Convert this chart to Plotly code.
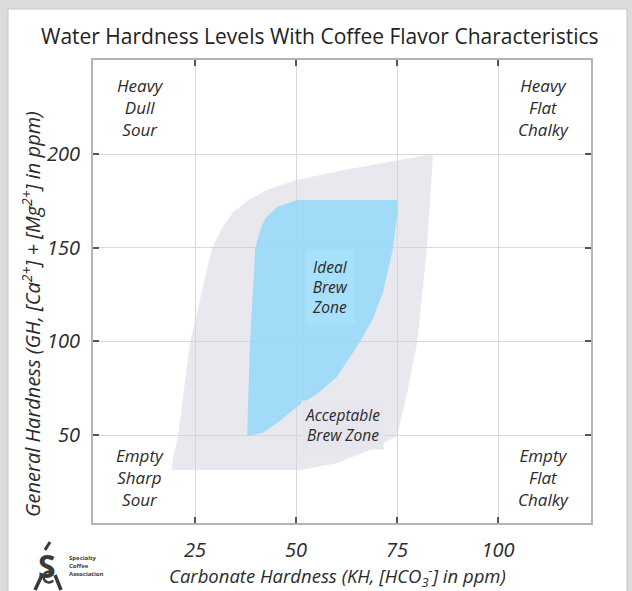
import math
import plotly.graph_objects as go

# ---------------- data ----------------
x_ticks = [25, 50, 75, 100]
y_ticks = [50, 100, 150, 200]

# Acceptable brew zone outline (KH, GH)
accept_kh = [19.3, 35.0, 51.0, 60.1, 68.3, 75.0, 77.5, 80.0, 82.4, 83.9,
             75.0, 62.0, 49.8, 42.5, 38.0, 34.5, 31.8, 29.2, 23.8, 20.8, 19.5, 19.3]
accept_gh = [31.3, 31.3, 31.3, 35.0, 42.0, 49.5, 72.5, 99.7, 149.8, 200.0,
             196.6, 191.5, 186.0, 180.5, 175.0, 169.0, 161.0, 149.8, 99.7, 49.5, 36.7, 31.3]

# Ideal brew zone outline (KH, GH)
ideal_kh = [37.9, 41.6, 46.0, 50.2, 55.5, 60.1, 65.8, 69.0, 71.5, 74.0, 75.0, 75.0,
            62.0, 50.2, 45.3, 42.5, 41.1, 39.9, 38.6, 37.9]
ideal_gh = [49.5, 51.0, 57.5, 65.0, 72.5, 81.0, 99.7, 112.0, 125.9, 149.8, 167.4, 175.4,
            175.4, 175.4, 171.7, 166.0, 159.5, 149.8, 99.7, 49.5]

corner_labels = ["Heavy<br>Dull<br>Sour", "Heavy<br>Flat<br>Chalky",
                 "Empty<br>Sharp<br>Sour", "Empty<br>Flat<br>Chalky"]
zone_labels = ["Ideal<br>Brew<br>Zone", "Acceptable<br>Brew Zone"]
zone_label_kh = [58.3, 61.5]
zone_label_gh = [128.8, 55.4]

title_text = "Water Hardness Levels With Coffee Flavor Characteristics"
x_title = "Carbonate Hardness (KH, [HCO<sub>3</sub><sup>-</sup>] in ppm)"
y_title = "General Hardness (GH, [Ca<sup>2+</sup>] + [Mg<sup>2+</sup>] in ppm)"
logo_text = "<b>Specialty<br>Coffee<br>Association</b>"

# ---------------- layout helpers ----------------
W, H = 632, 591
L, R, T, B = 93, 591, 60, 523   # plot-area pixel box


def px(x):
    return (x - L) / (R - L)


def py(y):
    return (B - y) / (B - T)


FONT = "'Open Sans', 'Noto Sans', sans-serif"
TXT = "#2b2b2b"

fig = go.Figure()

fig.add_trace(go.Scatter(
    x=accept_kh, y=accept_gh, mode="lines", fill="toself",
    fillcolor="rgba(211,209,224,0.5)", line=dict(width=0),
    hoverinfo="skip", showlegend=False))

fig.add_trace(go.Scatter(
    x=ideal_kh, y=ideal_gh, mode="lines", fill="toself",
    fillcolor="rgba(150,217,249,0.86)", line=dict(width=0),
    hoverinfo="skip", showlegend=False))

axis_common = dict(
    showgrid=True, gridcolor="#d9d9d9", gridwidth=1, zeroline=False,
    showline=True, linecolor="#b4b4b4", linewidth=2, mirror="ticks",
    ticks="inside", ticklen=6, tickwidth=2, tickcolor="#555555",
    tickfont=dict(family=FONT, size=20, color=TXT, style="italic"),
)

fig.update_xaxes(range=[-0.25, 123.0], tickvals=x_ticks, ticklabelstandoff=8,
                 **axis_common)
fig.update_yaxes(range=[3.04, 250.2], tickvals=y_ticks, ticklabelstandoff=7,
                 **axis_common)

ann = []
corner_pos = [(140, 72, "top"), (543, 72, "top"), (140, 513, "bottom"), (543, 513, "bottom")]
for txt, (cx, cy, ya) in zip(corner_labels, corner_pos):
    ann.append(dict(x=px(cx), y=py(cy), xref="paper", yref="paper", text=txt,
                    showarrow=False, xanchor="center", yanchor=ya, align="center",
                    font=dict(family=FONT, size=17, color=TXT, style="italic")))

zone_bg = ["#a7e0fb", "#e7e6ee"]
zone_pad = [6, 3]
for txt, kx, gy, bg, pd in zip(zone_labels, zone_label_kh, zone_label_gh, zone_bg, zone_pad):
    ann.append(dict(x=kx, y=gy, xref="x", yref="y", text=txt, showarrow=False,
                    align="center", bgcolor=bg, borderpad=pd,
                    font=dict(family=FONT, size=15.5, color=TXT, style="italic")))

ann.append(dict(x=px(337), y=py(576), xref="paper", yref="paper", text=x_title,
                showarrow=False, xanchor="center", yanchor="middle",
                font=dict(family=FONT, size=18.5, color=TXT, style="italic")))
ann.append(dict(x=px(31), y=py(314), xref="paper", yref="paper", text=y_title,
                showarrow=False, textangle=-90, xanchor="center", yanchor="middle",
                font=dict(family=FONT, size=20, color=TXT, style="italic")))

ann.append(dict(x=px(320), y=py(36), xref="paper", yref="paper", text=title_text,
                showarrow=False, xanchor="center", yanchor="middle",
                font=dict(family=FONT, size=21, color="#222222")))

# logo approximation
ann.append(dict(x=px(47), y=py(565), xref="paper", yref="paper", text="<b>S</b>",
                showarrow=False, xanchor="center", yanchor="middle",
                font=dict(family=FONT, size=32, color="#3a3a3a")))
ann.append(dict(x=px(67), y=py(566), xref="paper", yref="paper", text=logo_text,
                showarrow=False, xanchor="left", yanchor="middle", align="left",
                font=dict(family=FONT, size=6, color="#3a3a3a")))

cx0, cy0, rr = 49, 577, 5.5
pts = []
for k in range(0, 13):
    a = math.radians(40 + k * 23.3)
    pts.append((px(cx0 + rr * math.cos(a)), py(cy0 - rr * math.sin(a))))
c_path = "M " + " L ".join(f"{a:.5f},{b:.5f}" for a, b in pts)

shapes = [
    dict(type="rect", xref="paper", yref="paper", layer="below",
         x0=px(8), x1=px(627), y0=py(600), y1=py(9),
         fillcolor="white", line=dict(color="#c6c6c6", width=1)),
    dict(type="line", xref="paper", yref="paper", x0=px(45), x1=px(50),
         y0=py(550), y1=py(542), line=dict(color="#3a3a3a", width=3)),
    dict(type="line", xref="paper", yref="paper", x0=px(35), x1=px(42),
         y0=py(590), y1=py(575), line=dict(color="#3a3a3a", width=3.5)),
    dict(type="line", xref="paper", yref="paper", x0=px(61), x1=px(55),
         y0=py(590), y1=py(575), line=dict(color="#3a3a3a", width=3.5)),
    dict(type="path", xref="paper", yref="paper", path=c_path,
         line=dict(color="#3a3a3a", width=2.5)),
]

fig.update_layout(
    width=W, height=H,
    margin=dict(l=L, r=W - R, t=T, b=H - B, pad=0),
    paper_bgcolor="#dcdcdc", plot_bgcolor="white",
    showlegend=False, annotations=ann, shapes=shapes,
    font=dict(family=FONT, color=TXT),
)

fig.write_html(
    "out.html",
    config={"displayModeBar": False},
    post_script="document.body.style.margin='0';document.body.style.padding='0';"
                "document.body.style.overflow='hidden';",
)
